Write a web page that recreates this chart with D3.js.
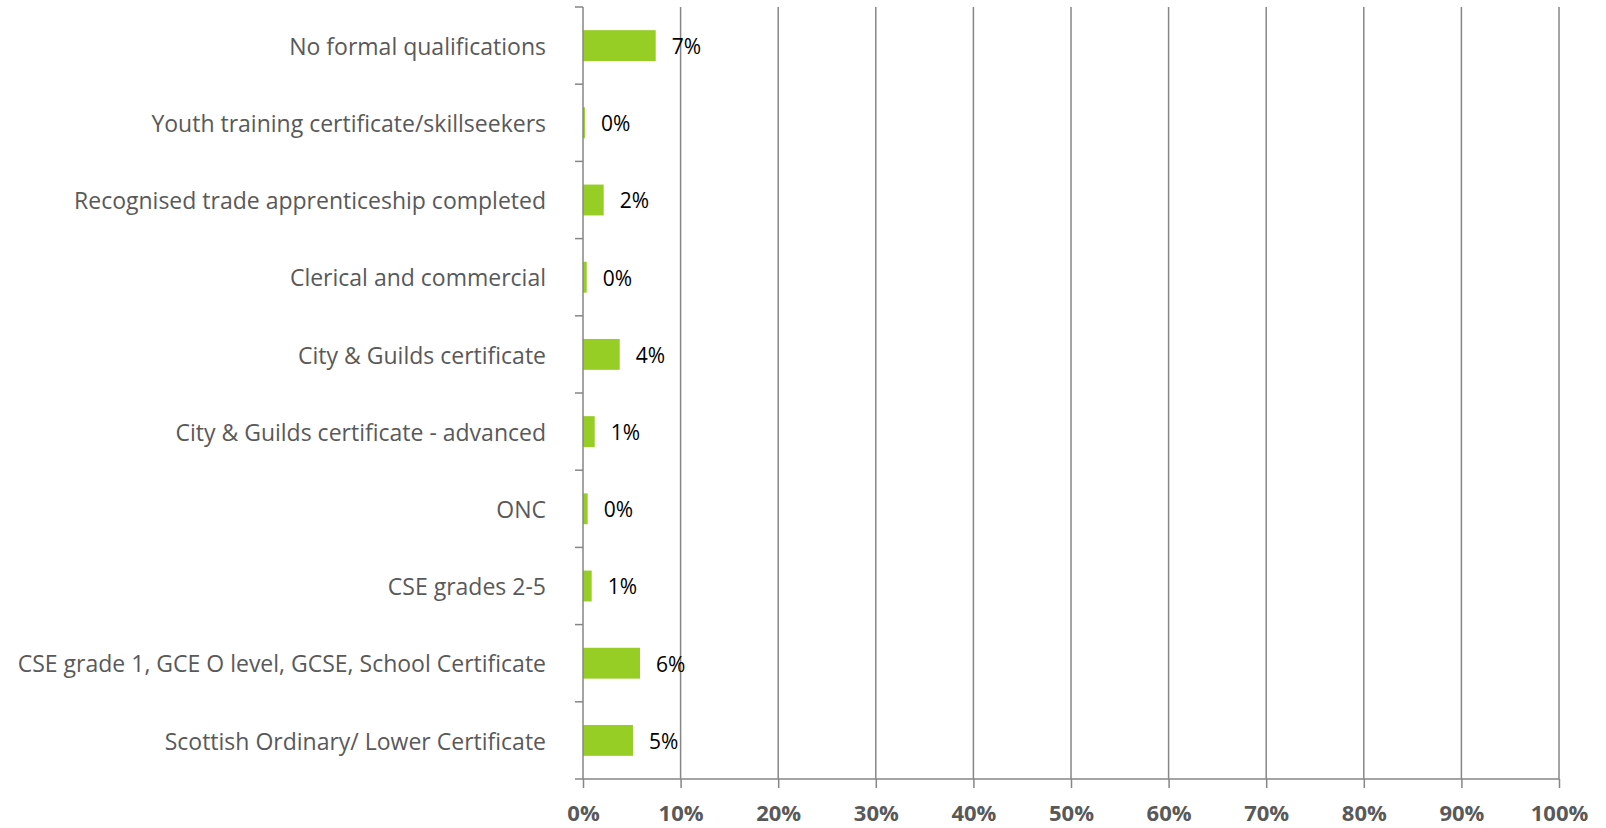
<!DOCTYPE html>
<html>
<head>
    <meta charset="utf-8">
    <title>Qualifications</title>
    <style>
        body { margin: 0; background: #fff; overflow: hidden; }
        svg { display: block; }
    </style>
</head>
<body>

    <script src="https://d3js.org/d3.v7.min.js"></script>
    <script type="text/javascript">

    // categories, top to bottom
    var categories = [
        "No formal qualifications",
        "Youth training certificate/skillseekers",
        "Recognised trade apprenticeship completed",
        "Clerical and commercial",
        "City & Guilds certificate",
        "City & Guilds certificate - advanced",
        "ONC",
        "CSE grades 2-5",
        "CSE grade 1, GCE O level, GCSE, School Certificate",
        "Scottish Ordinary/ Lower Certificate"
    ];

    // share in percent
    var values = [7.45, 0.2, 2.12, 0.38, 3.76, 1.2, 0.48, 0.89, 5.84, 5.12];

    var xTicks = [0, 10, 20, 30, 40, 50, 60, 70, 80, 90, 100];

    var margin = {top: 7, right: 47, bottom: 49, left: 583},
        width  = 1606 - margin.left - margin.right,
        height = 828 - margin.top - margin.bottom;

    var gridColor = "#868686";

    var x = d3.scaleLinear().domain([0, 100]).range([0, width]);
    var y = d3.scaleBand().domain(categories).range([0, height])
        .paddingInner(0.6).paddingOuter(0.3);

    var svg = d3.select("body")
        .append("svg")
        .attr("width", width + margin.left + margin.right)
        .attr("height", height + margin.top + margin.bottom);

    var chart = svg.append("g")
        .attr("transform", "translate(" + margin.left + "," + margin.top + ")");

    // vertical gridlines
    chart.selectAll(".grid")
        .data(xTicks.slice(1))
        .enter().append("line")
        .attr("x1", function(d) { return x(d); })
        .attr("x2", function(d) { return x(d); })
        .attr("y1", 0)
        .attr("y2", height)
        .style("stroke", gridColor)
        .style("stroke-width", "1.5px");

    // bars
    chart.selectAll(".bar")
        .data(values)
        .enter().append("rect")
        .attr("x", x(0))
        .attr("y", function(d, i) { return y(categories[i]); })
        .attr("width", function(d) { return x(d) - x(0); })
        .attr("height", y.bandwidth())
        .style("fill", "#96ce26");

    // value labels
    chart.selectAll(".val")
        .data(values)
        .enter().append("text")
        .attr("x", function(d) { return x(d) + 16; })
        .attr("y", function(d, i) { return y(categories[i]) + y.bandwidth() / 2; })
        .attr("dy", "0.4em")
        .text(function(d) { return Math.round(d) + "%"; })
        .style("font-family", "Open Sans")
        .style("font-size", "21px")
        .style("fill", "#000");

    // bottom axis
    var xAxis = chart.append("g")
        .attr("transform", "translate(0," + height + ")")
        .call(d3.axisBottom(x).tickValues(xTicks)
            .tickFormat(function(d) { return d + "%"; })
            .tickSize(9).tickPadding(17));
    xAxis.select(".domain").remove();
    xAxis.selectAll(".tick line")
        .style("stroke", gridColor)
        .style("stroke-width", "1.5px");
    xAxis.selectAll("text")
        .style("font-family", "Open Sans")
        .style("font-weight", "bold")
        .style("font-size", "22px")
        .style("fill", "#595959");
    xAxis.append("line")
        .attr("x1", -8).attr("x2", width)
        .style("stroke", gridColor)
        .style("stroke-width", "1.5px");

    // left axis with category labels
    var yAxis = chart.append("g")
        .call(d3.axisLeft(y).tickSize(0).tickPadding(37));
    yAxis.select(".domain").remove();
    yAxis.selectAll("text")
        .attr("dy", "0.4em")
        .style("font-family", "Open Sans")
        .style("font-size", "23px")
        .style("fill", "#595959");

    yAxis.append("line")
        .attr("x1", 0).attr("x2", 0)
        .attr("y1", 0).attr("y2", height)
        .style("stroke", gridColor)
        .style("stroke-width", "1.5px");

    // ticks between categories
    var bounds = categories.map(function(c) { return y(c) - y.step() * y.paddingInner() / 2; });
    yAxis.selectAll(".bound")
        .data(bounds)
        .enter().append("line")
        .attr("x1", -8).attr("x2", 0)
        .attr("y1", function(d) { return d; })
        .attr("y2", function(d) { return d; })
        .style("stroke", gridColor)
        .style("stroke-width", "1.5px");

    </script>
</body>
</html>
